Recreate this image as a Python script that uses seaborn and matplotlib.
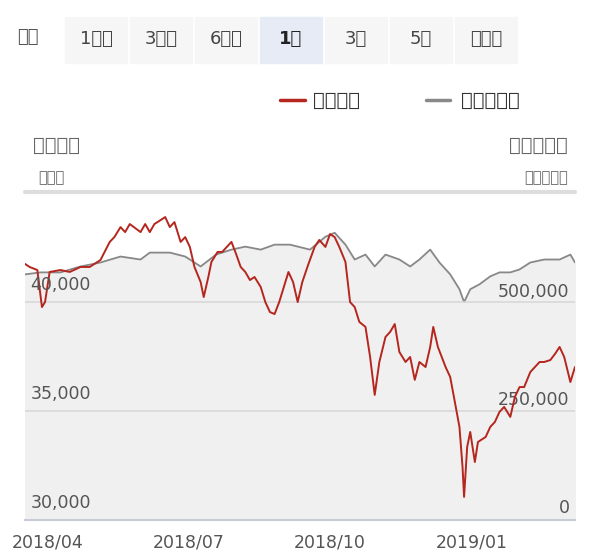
import pandas as pd
import matplotlib
matplotlib.use("Agg")
import matplotlib.pyplot as plt
import matplotlib.dates as mdates
import seaborn as sns

plt.rcParams["font.family"] = "Noto Sans CJK JP"

# 基準価額 (円)
nav_dates = ["2018-03-17", "2018-03-20", "2018-03-25", "2018-03-28", "2018-03-30", "2018-04-02",
             "2018-04-09", "2018-04-15", "2018-04-22", "2018-04-28", "2018-05-05", "2018-05-11",
             "2018-05-14", "2018-05-18", "2018-05-21", "2018-05-24", "2018-05-31", "2018-06-03",
             "2018-06-06", "2018-06-09", "2018-06-13", "2018-06-16", "2018-06-19", "2018-06-22",
             "2018-06-26", "2018-06-29", "2018-07-02", "2018-07-05", "2018-07-09", "2018-07-11",
             "2018-07-14", "2018-07-16", "2018-07-20", "2018-07-23", "2018-07-26", "2018-07-29",
             "2018-08-01", "2018-08-04", "2018-08-07", "2018-08-10", "2018-08-13", "2018-08-17",
             "2018-08-20", "2018-08-23", "2018-08-26", "2018-08-29", "2018-08-31", "2018-09-04",
             "2018-09-07", "2018-09-10", "2018-09-13", "2018-09-17", "2018-09-21", "2018-09-24",
             "2018-09-28", "2018-10-01", "2018-10-04", "2018-10-07", "2018-10-11", "2018-10-14",
             "2018-10-17", "2018-10-20", "2018-10-24", "2018-10-27", "2018-10-30", "2018-11-02",
             "2018-11-06", "2018-11-09", "2018-11-12", "2018-11-15", "2018-11-19", "2018-11-22",
             "2018-11-25", "2018-11-28", "2018-12-02", "2018-12-05", "2018-12-07", "2018-12-10",
             "2018-12-15", "2018-12-18", "2018-12-21", "2018-12-24", "2018-12-26", "2018-12-27",
             "2018-12-29", "2018-12-31", "2019-01-03", "2019-01-05", "2019-01-10", "2019-01-13",
             "2019-01-16", "2019-01-19", "2019-01-22", "2019-01-26", "2019-01-29", "2019-02-01",
             "2019-02-04", "2019-02-08", "2019-02-11", "2019-02-14", "2019-02-17", "2019-02-21",
             "2019-02-24", "2019-02-27", "2019-03-02", "2019-03-06", "2019-03-09"]
nav_values = [41750, 41610, 41470, 39770, 40000, 41380,
              41470, 41380, 41610, 41610, 41930, 42760,
              42980, 43440, 43210, 43580, 43210, 43580,
              43210, 43580, 43760, 43900, 43440, 43670,
              42760, 42980, 42530, 41610, 40920, 40230,
              41150, 41840, 42300, 42300, 42530, 42760,
              42210, 41610, 41380, 41010, 41150, 40690,
              40000, 39540, 39450, 40000, 40460, 41380,
              40920, 40000, 40920, 41750, 42530, 42850,
              42530, 43120, 42980, 42530, 41840, 40000,
              39770, 39090, 38860, 37480, 35740, 37250,
              38400, 38630, 38990, 37710, 37250, 37480,
              36430, 37250, 37020, 37940, 38860, 37940,
              37020, 36560, 35420, 34270, 32430, 31060,
              33350, 34040, 32660, 33580, 33810, 34270,
              34500, 34960, 35190, 34730, 35650, 36100,
              36100, 36790, 37020, 37250, 37250, 37340,
              37620, 37940, 37480, 36330, 37020]

# 純資産総額 (百万円)
aum_dates = ["2018-03-17", "2018-03-27", "2018-04-09", "2018-04-22", "2018-05-05", "2018-05-18",
             "2018-05-31", "2018-06-06", "2018-06-19", "2018-06-29", "2018-07-09", "2018-07-19",
             "2018-07-29", "2018-08-07", "2018-08-17", "2018-08-26", "2018-09-05", "2018-09-18",
             "2018-09-28", "2018-10-04", "2018-10-11", "2018-10-17", "2018-10-24", "2018-10-30",
             "2018-11-06", "2018-11-15", "2018-11-22", "2018-11-28", "2018-12-05", "2018-12-11",
             "2018-12-18", "2018-12-24", "2018-12-27", "2018-12-31", "2019-01-06", "2019-01-13",
             "2019-01-19", "2019-01-26", "2019-02-01", "2019-02-08", "2019-02-17", "2019-02-27",
             "2019-03-06", "2019-03-09"]
aum_values = [568600, 573200, 573200, 586900, 596100, 609900,
              603000, 619000, 619000, 609900, 586900, 614400,
              625900, 632800, 625900, 637400, 637400, 625900,
              655700, 664900, 637400, 603000, 614400, 586900,
              614400, 603000, 586900, 603000, 625900, 596100,
              568600, 534200, 504300, 534200, 545600, 564000,
              573200, 573200, 580000, 596100, 603000, 603000,
              614400, 596100]

nav_df = pd.DataFrame({"date": pd.to_datetime(nav_dates), "value": nav_values})
aum_df = pd.DataFrame({"date": pd.to_datetime(aum_dates), "value": aum_values})

sns.set_style("white")
fig = plt.figure(figsize=(6, 5.57), dpi=100)
ax = fig.add_axes([25 / 600, 37 / 557, 550 / 600, 328 / 557])
ax2 = ax.twinx()

ax.set_ylim(30000, 45050)
ax2.set_ylim(0, 759300)
ax.set_xlim(pd.Timestamp("2018-03-17"), pd.Timestamp("2019-03-09"))

# gray area under the AUM line
ax2.fill_between(aum_df["date"], 0, aum_df["value"], color="#f0f0f0", zorder=0)
sns.lineplot(data=aum_df, x="date", y="value", ax=ax2, color="#888888", lw=1.3)
ax.set_zorder(ax2.get_zorder() + 1)
ax.patch.set_visible(False)
sns.lineplot(data=nav_df, x="date", y="value", ax=ax, color="#b5261e", lw=1.4)

for y in [35000, 40000]:
    ax.axhline(y, color="#d8d8dc", lw=1.2, zorder=1)
ax.axhline(45050, color="#dddddd", lw=3, clip_on=False)

for s in ["left", "right", "top"]:
    ax.spines[s].set_visible(False)
    ax2.spines[s].set_visible(False)
ax.spines["bottom"].set_color("#c8ccd8")
ax.spines["bottom"].set_linewidth(1.5)
ax2.spines["bottom"].set_visible(False)

ax.set_xlabel("")
ax.set_ylabel("")
ax2.set_xlabel("")
ax2.set_ylabel("")
ax.set_yticks([])
ax2.set_yticks([])

# tick labels sit inside the plot, above their gridlines
for v in [30000, 35000, 40000]:
    ax.text(0.01, v + 350, f"{v:,}", transform=ax.get_yaxis_transform(), fontsize=12.5,
            color="#555555", va="bottom", ha="left", zorder=5)
for v in [0, 250000, 500000]:
    ax2.text(0.99, v + 8000, f"{v:,}", transform=ax2.get_yaxis_transform(), fontsize=12.5,
             color="#555555", va="bottom", ha="right", zorder=5)

ax.xaxis.set_major_locator(mdates.MonthLocator(bymonth=[1, 4, 7, 10]))
ax.xaxis.set_major_formatter(mdates.DateFormatter("%Y/%m"))
ax.tick_params(axis="x", length=6, width=1.2, color="#c8ccd8", labelsize=12.5,
               labelcolor="#555555", pad=4)

# headers
fig.text(33 / 600, 1 - 145 / 557, "基準価額", fontsize=14, color="#666666",
         weight="bold", va="center")
fig.text(38 / 600, 1 - 178 / 557, "（円）", fontsize=10.5, color="#666666", va="center")
fig.text(568 / 600, 1 - 145 / 557, "純資産総額", fontsize=14, color="#666666",
         weight="bold", va="center", ha="right")
fig.text(568 / 600, 1 - 178 / 557, "（百万円）", fontsize=10.5, color="#666666",
         va="center", ha="right")

# legend
fig.lines.append(plt.Line2D([280 / 600, 305 / 600], [1 - 100 / 557] * 2, color="#b5261e",
                            lw=2.5, transform=fig.transFigure))
fig.text(313 / 600, 1 - 100 / 557, "基準価額", fontsize=14, weight="bold",
         color="#333333", va="center")
fig.lines.append(plt.Line2D([426 / 600, 450 / 600], [1 - 100 / 557] * 2, color="#888888",
                            lw=2.5, transform=fig.transFigure))
fig.text(461 / 600, 1 - 100 / 557, "純資産総額", fontsize=14, weight="bold",
         color="#333333", va="center")

# period buttons
fig.text(17 / 600, 1 - 37 / 557, "期間", fontsize=13, color="#555555", va="center")
labels = ["1ヶ月", "3ヶ月", "6ヶ月", "1年", "3年", "5年", "すべて"]
lefts = [65, 130, 195, 260, 325, 390, 455]
for lab, left in zip(labels, lefts):
    selected = lab == "1年"
    fig.patches.append(plt.Rectangle((left / 600, 1 - 63 / 557), 62 / 600, 46 / 557,
                                     transform=fig.transFigure,
                                     color="#e6ebf5" if selected else "#f6f6f6"))
    fig.text((left + 31) / 600, 1 - 39 / 557, lab, fontsize=13, ha="center", va="center",
             color="#222222" if selected else "#444444",
             weight="bold" if selected else "normal")

fig.savefig("out.png", dpi=100)
